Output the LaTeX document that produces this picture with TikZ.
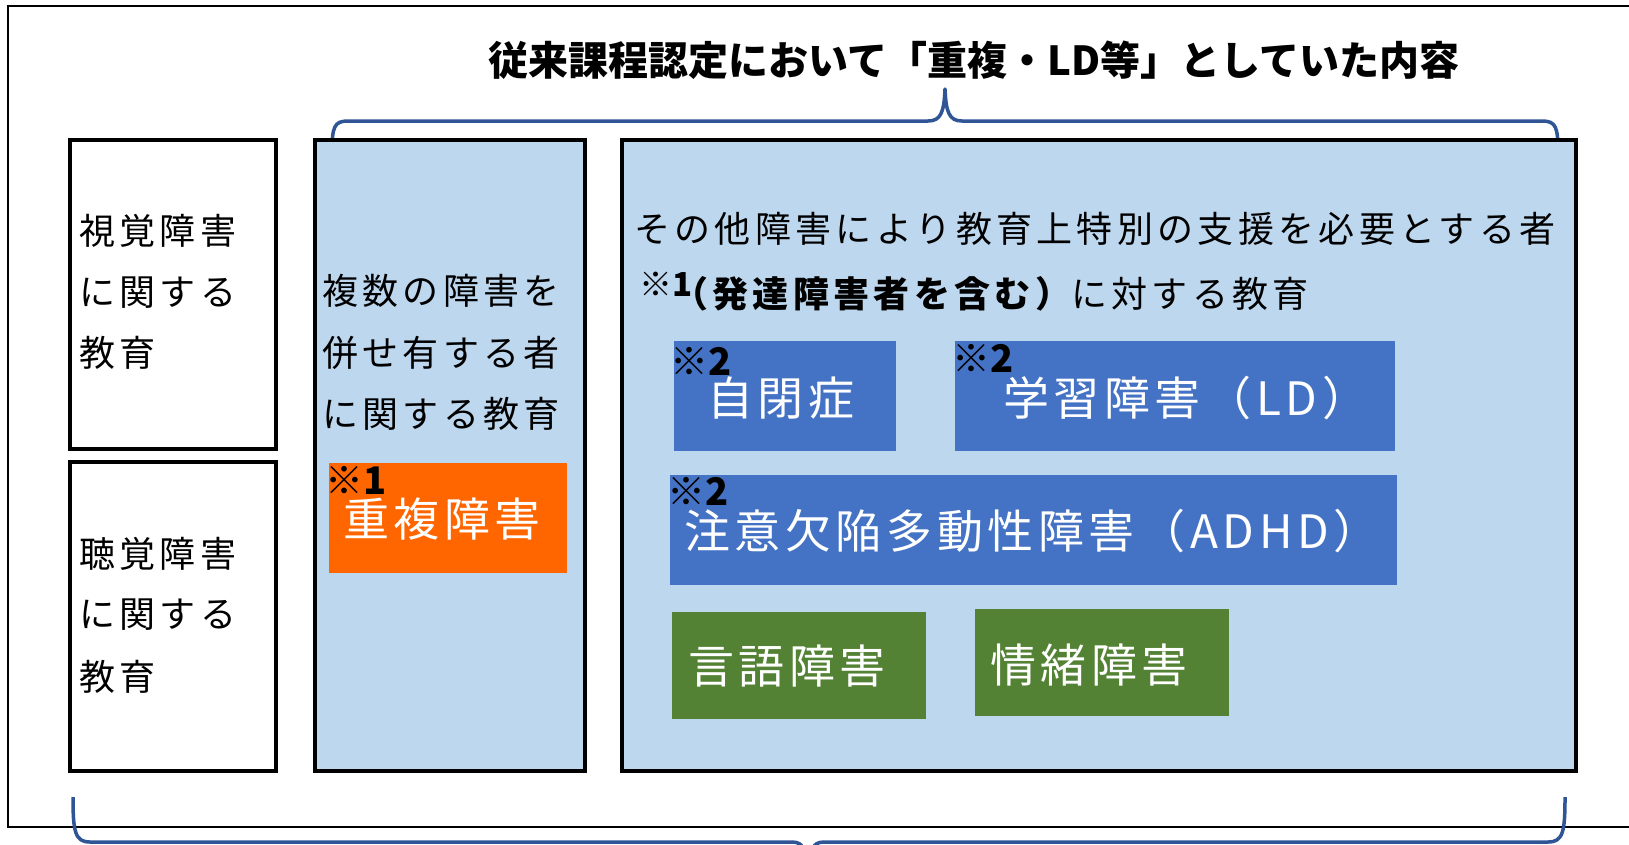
\documentclass[tikz,border=0pt]{standalone}
\usepackage{fontspec}
\setmainfont{Noto Sans CJK JP}
\newfontfamily\widef{Noto Sans CJK JP}[LetterSpace=12]
\newfontfamily\midf{Noto Sans CJK JP}[LetterSpace=10]
\newfontfamily\titlef{Noto Sans CJK JP}[LetterSpace=0]
\definecolor{lblue}{HTML}{BDD7EE}
\definecolor{mblue}{HTML}{4472C4}
\definecolor{orng}{HTML}{FF6600}
\definecolor{grn}{HTML}{548235}
\definecolor{bracec}{HTML}{2F5597}
\begin{document}
\begin{tikzpicture}[x=1pt,y=-1pt,
  catframe/.style={draw=black,line width=4.5pt,inner sep=0pt,outer sep=0pt},
  whitebox/.style={catframe,fill=white},
  bluebox/.style={catframe,fill=lblue},
  tagbox/.style={draw=none,inner sep=0pt,outer sep=0pt},
  txt/.style={inner sep=0pt,anchor=west,text=black,font=\widef\fontsize{36}{36}\selectfont},
  wtxt/.style={inner sep=0pt,anchor=west,text=white,font=\midf\fontsize{46}{46}\selectfont},
  refmark/.style={inner sep=0pt,anchor=west,text=black,font=\titlef\bfseries\fontsize{38}{38}\selectfont},
  bracepath/.style={draw=bracec,line width=3.5pt,line join=round,line cap=butt}
]
\useasboundingbox (0,0) rectangle (1629,844);
\clip (0,0) rectangle (1629,844);
\fill[white] (0,0) rectangle (1629,844);
% outer frame
\draw[line width=2.5pt] (8,6) rectangle (1680,827);
% title
\node[inner sep=0pt,font=\titlef\bfseries\fontsize{40}{40}\selectfont] (title) at (974,60) {従来課程認定において「重複・LD等」としていた内容};
% top brace
\draw[bracepath] (332,153) .. controls (332,127) and (334,121) .. (348,121) -- (928,121)
  .. controls (941,121) and (944,112) .. (945,89)
  .. controls (946,112) and (949,121) .. (962,121) -- (1542,121)
  .. controls (1556,121) and (1558,127) .. (1558,153);
% category boxes
\node[whitebox,minimum width=206pt,minimum height=309pt] (vis) at (173,294.5) {};
\node[whitebox,minimum width=206pt,minimum height=309pt] (aud) at (173,616.5) {};
\node[bluebox,minimum width=270pt,minimum height=631pt] (mult) at (450,455.5) {};
\node[bluebox,minimum width=954pt,minimum height=631pt] (other) at (1099,455.5) {};
% texts in boxes
\node[txt] (vis1) at (79,231) {視覚障害};
\node[txt] (vis2) at (79,293) {に関する};
\node[txt] (vis3) at (79,353) {教育};
\node[txt] (aud1) at (79,554) {聴覚障害};
\node[txt] (aud2) at (79,615) {に関する};
\node[txt] (aud3) at (79,677) {教育};
\node[txt] (mult1) at (322,291) {複数の障害を};
\node[txt] (mult2) at (322,353) {併せ有する者};
\node[txt] (mult3) at (322,414) {に関する教育};
\node[txt] (oth1) at (634,229) {その他障害により教育上特別の支援を必要とする者};
\node[txt] (oth2) at (639,292) {\raisebox{11pt}{\titlef\bfseries\fontsize{33}{33}\selectfont ※1}\hspace{-20pt}{\bfseries （発達障害者を含む）}に対する教育};
% coloured tags
\node[tagbox,fill=orng,minimum width=238pt,minimum height=110pt] (dup) at (448,518) {};
\node[tagbox,fill=mblue,minimum width=222pt,minimum height=110pt] (aut) at (785,396) {};
\node[tagbox,fill=mblue,minimum width=440pt,minimum height=110pt] (ld) at (1175,396) {};
\node[tagbox,fill=mblue,minimum width=727pt,minimum height=110pt] (adhd) at (1033.5,530) {};
\node[tagbox,fill=grn,minimum width=254pt,minimum height=107pt] (spe) at (799,665.5) {};
\node[tagbox,fill=grn,minimum width=254pt,minimum height=107pt] (emo) at (1102,662.5) {};
% tag texts
\node[wtxt] (dupt) at (343,519) {重複障害};
\node[wtxt] (autt) at (707,398) {自閉症};
\node[wtxt] (ldt) at (1003,398) {学習障害（LD）};
\node[wtxt] (adhdt) at (684,531) {注意欠陥多動性障害（ADHD）};
\node[wtxt] (spet) at (688,666) {言語障害};
\node[wtxt] (emot) at (990,665) {情緒障害};
% reference marks
\node[refmark] (m1) at (325,480) {※1};
\node[refmark] (m2a) at (670,361) {※2};
\node[refmark] (m2b) at (952,358) {※2};
\node[refmark] (m2c) at (667,491) {※2};
% bottom brace
\draw[bracepath] (73,797) .. controls (73,832) and (75,842) .. (90,842) -- (792,842)
  .. controls (804,842) and (807,850) .. (808,880)
  .. controls (809,850) and (812,842) .. (824,842) -- (1548,842)
  .. controls (1563,842) and (1565,832) .. (1565,797);
\end{tikzpicture}
\end{document}
